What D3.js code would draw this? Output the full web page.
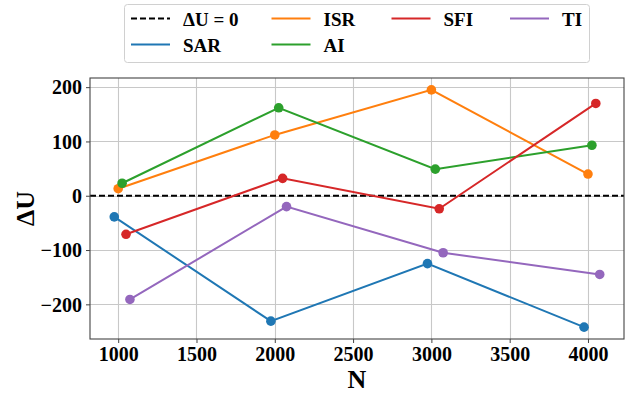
<!DOCTYPE html>
<html>
<head>
<meta charset="utf-8">
<script src="https://cdn.jsdelivr.net/npm/d3@7"></script>
<style>
  html, body { margin: 0; padding: 0; background: #fff; }
  svg { display: block; }
  text { font-family: "Liberation Serif", "Times New Roman", serif; font-weight: bold; fill: #000; }
</style>
</head>
<body>
<svg id="chart" width="626" height="394"></svg>
<script>
// Problem sizes on the x axis
const sizes = [1000, 2000, 3000, 4000];

// Change in objective for each method
const seriesNames = ["SAR", "ISR", "AI", "SFI", "TI"];
const sarValues = [-39, -231, -125, -242];
const isrValues = [13, 112, 195, 40];
const aiValues  = [23, 162, 49, 93];
const sfiValues = [-71, 32, -24, 170];
const tiValues  = [-191, -20, -105, -145];

// Horizontal shift of each method so markers do not overlap
const shifts = [-25, 0, 25, 50, 75];

const colors = ["#1f77b4", "#ff7f0e", "#2ca02c", "#d62728", "#9467bd"];

const xTicks = [1000, 1500, 2000, 2500, 3000, 3500, 4000];
const yTicks = [-200, -100, 0, 100, 200];

const allValues = [sarValues, isrValues, aiValues, sfiValues, tiValues];
const series = seriesNames.map((name, i) => ({
  name,
  color: colors[i],
  points: sizes.map((n, j) => ({ x: n + shifts[i], y: allValues[i][j] }))
}));

const svg = d3.select("#chart");
const plot = { left: 90, right: 624, top: 78, bottom: 339 };

// Domains padded by 5% of the data span on each side
function padded(lo, hi) {
  const m = (hi - lo) * 0.05;
  return [lo - m, hi + m];
}
const xsAll = series.flatMap(s => s.points.map(p => p.x));
const ysAll = series.flatMap(s => s.points.map(p => p.y));
const x = d3.scaleLinear().domain(padded(d3.min(xsAll), d3.max(xsAll))).range([plot.left, plot.right]);
const y = d3.scaleLinear().domain(padded(d3.min(ysAll), d3.max(ysAll))).range([plot.bottom, plot.top]);

// Grid
const grid = svg.append("g");
grid.selectAll("line.gx").data(xTicks).join("line")
  .attr("x1", d => Math.round(x(d)) + 0.5).attr("x2", d => Math.round(x(d)) + 0.5)
  .attr("y1", plot.top).attr("y2", plot.bottom)
  .attr("stroke", "#c8c8c8").attr("stroke-width", 1.1);
grid.selectAll("line.gy").data(yTicks).join("line")
  .attr("y1", d => Math.round(y(d)) + 0.5).attr("y2", d => Math.round(y(d)) + 0.5)
  .attr("x1", plot.left).attr("x2", plot.right)
  .attr("stroke", "#c8c8c8").attr("stroke-width", 1.1);

// Axes
const xAxis = d3.axisBottom(x).tickValues(xTicks).tickSize(4).tickPadding(4).tickFormat(d3.format("d"));
const yAxis = d3.axisLeft(y).tickValues(yTicks).tickSize(4).tickPadding(4)
  .tickFormat(d => d < 0 ? "\u2212" + Math.abs(d) : String(d));

const gx = svg.append("g").attr("transform", `translate(0,${plot.bottom})`).call(xAxis);
const gy = svg.append("g").attr("transform", `translate(${plot.left},0)`).call(yAxis);
[gx, gy].forEach(g => {
  g.attr("font-family", null).attr("font-size", null);
  g.select(".domain").remove();
  g.selectAll(".tick line").attr("stroke", "#444");
  g.selectAll(".tick text").style("font-size", "20px").style("font-family", "'Liberation Serif', serif").style("font-weight", "bold").attr("fill", "#000");
});
gx.selectAll(".tick text").attr("dy", "0.71em");
gy.selectAll(".tick text").attr("dy", "0.34em");

// Reference line at zero
svg.append("line")
  .attr("x1", plot.left).attr("x2", plot.right)
  .attr("y1", y(0)).attr("y2", y(0))
  .attr("stroke", "#000").attr("stroke-width", 2).attr("stroke-dasharray", "6,3");

// Series lines and markers
const line = d3.line().x(d => x(d.x)).y(d => y(d.y));
series.forEach(s => {
  const g = svg.append("g");
  g.append("path").datum(s.points).attr("d", line)
    .attr("fill", "none").attr("stroke", s.color).attr("stroke-width", 2);
  g.selectAll("circle").data(s.points).join("circle")
    .attr("cx", d => x(d.x)).attr("cy", d => y(d.y)).attr("r", 4.8)
    .attr("fill", s.color);
});

// Frame
svg.append("rect")
  .attr("x", plot.left).attr("y", plot.top)
  .attr("width", plot.right - plot.left).attr("height", plot.bottom - plot.top)
  .attr("fill", "none").attr("stroke", "#444").attr("stroke-width", 1.1);

// Axis titles
svg.append("text").attr("x", (plot.left + plot.right) / 2).attr("y", 388)
  .attr("text-anchor", "middle").style("font-size", "26px").text("N");
svg.append("text")
  .attr("transform", `translate(34,${(plot.top + plot.bottom) / 2}) rotate(-90)`)
  .attr("text-anchor", "middle").style("font-size", "26px").text("\u0394U");

// Legend
const legend = svg.append("g");
legend.append("rect")
  .attr("x", 124.5).attr("y", 4.5).attr("width", 465).attr("height", 58)
  .attr("rx", 3).attr("fill", "#fff").attr("fill-opacity", 0.8)
  .attr("stroke", "#d0d0d0").attr("stroke-width", 1);

const legendItems = [
  { label: "\u0394U = 0", color: "#000", dash: "6,3", col: 0, row: 0 },
  { label: "SAR", color: colors[0], col: 0, row: 1 },
  { label: "ISR", color: colors[1], col: 1, row: 0 },
  { label: "AI",  color: colors[2], col: 1, row: 1 },
  { label: "SFI", color: colors[3], col: 2, row: 0 },
  { label: "TI",  color: colors[4], col: 3, row: 0 }
];
const colX = [131, 271.5, 391.5, 510];
const rowY = [18.5, 44.5];
legendItems.forEach(it => {
  const lx = colX[it.col], ly = rowY[it.row];
  legend.append("line")
    .attr("x1", lx).attr("x2", lx + 39).attr("y1", ly).attr("y2", ly)
    .attr("stroke", it.color).attr("stroke-width", 2)
    .attr("stroke-dasharray", it.dash || null);
  legend.append("text").attr("x", lx + 52).attr("y", ly + 7.5)
    .style("font-size", "19px").text(it.label);
});
</script>
</body>
</html>
